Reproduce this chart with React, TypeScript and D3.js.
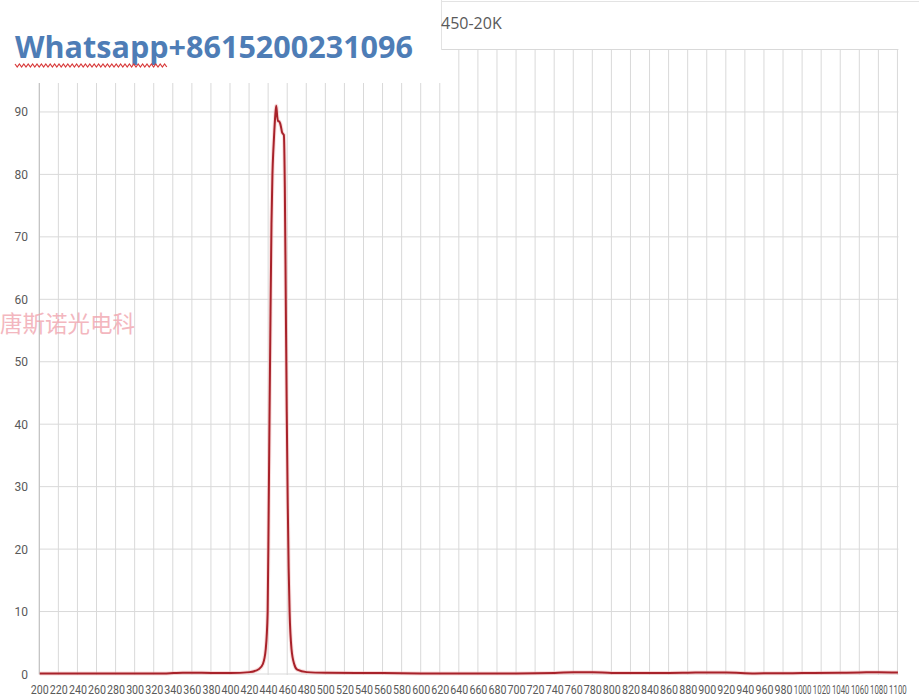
import React from "react";
import * as d3 from "d3";

// Transmission spectrum of the 450-20K band-pass filter (wavelength in nm, transmittance in %)
const wavelengths = [
  200, 260, 300, 330, 340, 350, 370, 390, 400, 420, 430, 434, 437, 439, 440, 441, 442, 443, 444,
  445, 446, 447, 448, 449, 450, 451, 452, 453, 454, 455, 456, 457, 458, 459, 460, 461, 462, 464,
  467, 470, 480, 500, 560, 600, 650, 700, 740, 760, 780, 800, 850, 880, 900, 920, 950, 1000, 1040,
  1060, 1080, 1100,
];
const transmittance = [
  0.1, 0.1, 0.1, 0.1, 0.15, 0.2, 0.2, 0.15, 0.15, 0.3, 0.8, 1.6, 4, 10, 25, 42, 58, 72, 80,
  84, 87, 89.5, 91, 89.3, 88.5, 88.5, 88.2, 87.6, 86.8, 86.5, 86.3, 78, 60, 42, 28, 17, 10, 4,
  1.5, 0.7, 0.3, 0.2, 0.15, 0.1, 0.1, 0.1, 0.15, 0.3, 0.3, 0.15, 0.15, 0.2, 0.25, 0.25, 0.1, 0.15, 0.2,
  0.25, 0.3, 0.25,
];

const xTickLabels = d3.range(200, 1101, 20);
const yTickValues = d3.range(0, 91, 10);
const yGridValues = d3.range(0, 101, 10);

const chartTitle = "450-20K";
const contactText = "Whatsapp+8615200231096";
const brandText = "唐斯诺光电科";

const W = 919;
const H = 697;
const plot = { left: 39.3, right: 898.4, top: 49.5, bottom: 674 };

export default function App() {
  const x = d3.scaleLinear().domain([199.5, 1100.5]).range([plot.left, plot.right]);
  const y = d3.scaleLinear().domain([0, 100]).range([plot.bottom, plot.top]);

  const points: [number, number][] = wavelengths.map((w, i) => [w, transmittance[i]]);
  const line = d3
    .line<[number, number]>()
    .x((d) => x(d[0]))
    .y((d) => y(d[1]))
    .curve(d3.curveMonotoneX);
  const pathD = line(points) || "";

  // vertical gridlines sit on the category boundaries, every 20 nm
  const vGrid = d3.range(0, 46).map((k) => x(199.5 + 20 * k));

  // wavy spell-check underline under the contact name
  const wave: string[] = [];
  for (let i = 0, px = 15; px <= 167; i++, px += 2.2) {
    wave.push(`${i === 0 ? "M" : "L"}${px.toFixed(1)},${i % 2 === 0 ? 64 : 67}`);
  }

  return (
    <div style={{ position: "fixed", left: 0, top: 0, width: W, height: H, background: "#fff" }}>
      <svg width={W} height={H} style={{ display: "block" }}>
        <rect x={0} y={0} width={W} height={H} fill="#fff" />

        {/* gridlines */}
        <g stroke="#d9d9d9" strokeWidth={1}>
          {yGridValues.map((v) => (
            <line key={`h${v}`} x1={plot.left} x2={plot.right} y1={y(v)} y2={y(v)} />
          ))}
          {vGrid.map((gx, i) => (
            <line key={`v${i}`} x1={gx} x2={gx} y1={plot.top} y2={plot.bottom + 1} />
          ))}
        </g>
        <line x1={plot.left} x2={plot.left} y1={plot.top} y2={plot.bottom} stroke="#bfbfbf" />

        {/* y tick labels */}
        <g fontFamily="Roboto, 'Open Sans', sans-serif" fontSize={12} fill="#595959" textAnchor="end">
          {yTickValues.map((v) => (
            <text key={v} x={28} y={y(v) + 4.5}>
              {v}
            </text>
          ))}
        </g>

        {/* x tick labels */}
        <g fontFamily="Roboto, 'Open Sans', sans-serif" fontSize={12.5} fill="#595959" textAnchor="middle">
          {xTickLabels.map((v) => (
            <text
              key={v}
              x={x(v)}
              y={693.5}
              textLength={String(v).length > 3 ? 17.6 : 18}
              lengthAdjust="spacingAndGlyphs"
            >
              {v}
            </text>
          ))}
        </g>

        {/* faint brand mark */}
        <text
          x={0}
          y={332}
          fontFamily="'Noto Sans CJK SC', sans-serif"
          fontSize={22.5}
          fill="#f0a0aa"
          opacity={0.75}
        >
          {brandText}
        </text>

        {/* spectrum */}
        <path d={pathD} fill="none" stroke="#f4b8b8" strokeWidth={4} opacity={0.5} />
        <path d={pathD} fill="none" stroke="#a8222a" strokeWidth={2} strokeLinejoin="round" />

        {/* contact banner over the top-left corner */}
        <rect x={0} y={0} width={441} height={83} fill="#fff" />
        <line x1={441.5} x2={441.5} y1={0} y2={50} stroke="#e3e3e3" />
        <line x1={441} x2={W} y1={1.5} y2={1.5} stroke="#e3e3e3" />
        <text
          x={15}
          y={58}
          fontFamily="'Open Sans', 'Noto Sans', sans-serif"
          fontWeight={700}
          fontSize={30}
          fill="#4e7db6"
          textLength={398}
          lengthAdjust="spacingAndGlyphs"
        >
          {contactText}
        </text>
        <path d={wave.join("")} fill="none" stroke="#d83a3a" strokeWidth={1.2} />

        {/* title */}
        <text x={441} y={29} fontFamily="'Open Sans', sans-serif" fontSize={16} fill="#595959">
          {chartTitle}
        </text>
      </svg>
    </div>
  );
}
